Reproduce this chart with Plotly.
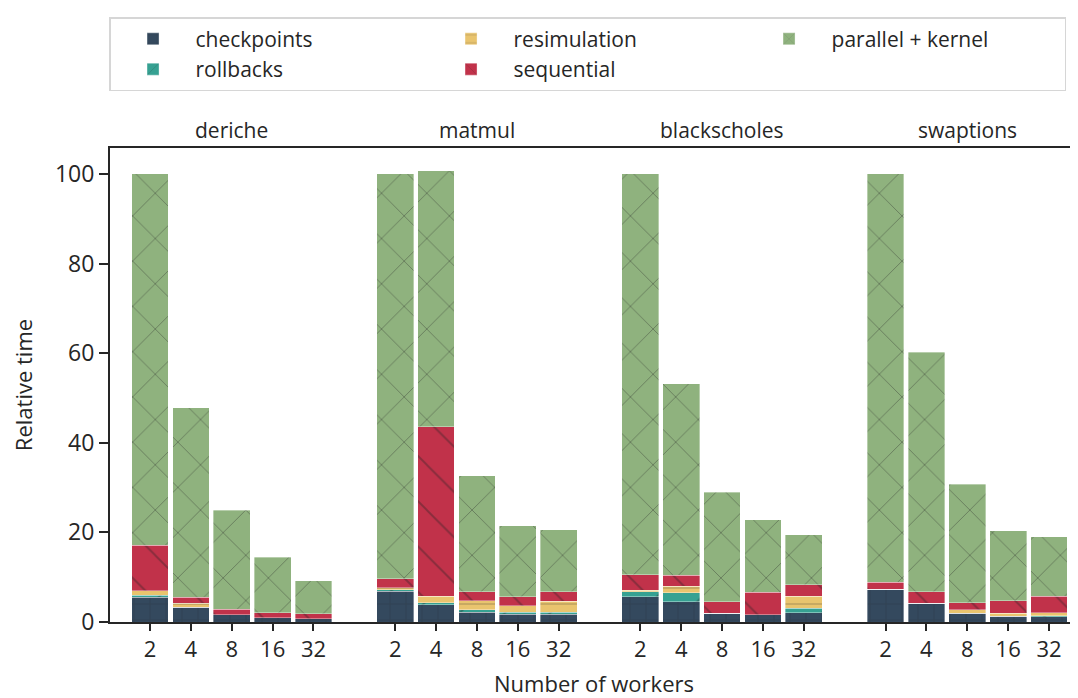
import plotly.graph_objects as go

benchmarks = ["deriche", "matmul", "blackscholes", "swaptions"]
workers = ["2", "4", "8", "16", "32"]

# segment values per benchmark (5 worker counts each)
checkpoints = {
    "deriche":      [5.5, 3.3, 1.6, 1.0, 0.7],
    "matmul":       [6.9, 3.8, 2.2, 1.7, 1.7],
    "blackscholes": [5.6, 4.5, 1.9, 1.6, 2.1],
    "swaptions":    [7.3, 4.2, 2.0, 1.3, 1.2],
}
rollbacks = {
    "deriche":      [0.5, 0.0, 0.0, 0.0, 0.0],
    "matmul":       [0.3, 0.45, 0.5, 0.5, 0.5],
    "blackscholes": [1.1, 2.0, 0.0, 0.0, 1.0],
    "swaptions":    [0.0, 0.0, 0.0, 0.0, 0.2],
}
resimulation = {
    "deriche":      [1.0, 0.9, 0.0, 0.0, 0.0],
    "matmul":       [0.4, 1.55, 2.0, 1.4, 2.4],
    "blackscholes": [0.4, 1.5, 0.0, 0.0, 2.6],
    "swaptions":    [0.0, 0.0, 0.7, 0.6, 0.7],
}
sequential = {
    "deriche":      [10.1, 1.3, 1.3, 1.1, 1.1],
    "matmul":       [2.0, 37.8, 2.0, 2.0, 2.2],
    "blackscholes": [3.5, 2.4, 2.6, 5.0, 2.6],
    "swaptions":    [1.6, 2.5, 1.6, 2.8, 3.6],
}
parallel_kernel = {
    "deriche":      [82.9, 42.3, 22.0, 12.4, 7.4],
    "matmul":       [90.4, 57.1, 26.0, 15.9, 13.8],
    "blackscholes": [89.4, 42.8, 24.5, 16.2, 11.2],
    "swaptions":    [91.1, 53.5, 26.5, 15.7, 13.3],
}

series = [
    ("checkpoints", checkpoints, "#34495e", "+", 16, 1),
    ("rollbacks", rollbacks, "#36a192", "/", 32, 4),
    ("resimulation", resimulation, "#e9c46e", "-", 16, 2),
    ("sequential", sequential, "#c1324a", "\\", 32, 5),
    ("parallel + kernel", parallel_kernel, "#8fb27e", "x", 32, 3),
]

GAP = 1
xs, xt = [], []
for g, b in enumerate(benchmarks):
    for i, w in enumerate(workers):
        xs.append(g * (len(workers) + GAP) + i)
        xt.append(w)

fig = go.Figure()
for name, data, color, shape, size, rank in series:
    vals = [v for b in benchmarks for v in data[b]]
    fig.add_trace(go.Bar(
        x=xs, y=vals, name=name, width=0.9, legendrank=rank,
        marker=dict(color=color,
                    line=dict(color="rgba(255,255,255,0.6)", width=0.6),
                    pattern=dict(shape=shape, size=size, solidity=0.06,
                                 fgcolor="#222222", fgopacity=0.36)),
    ))

FONT = "Open Sans"
INK = "#262626"

for g, b in enumerate(benchmarks):
    fig.add_annotation(
        x=g * (len(workers) + GAP) + (len(workers) - 1) / 2, xref="x",
        y=1.0, yref="paper", yanchor="bottom", yshift=2,
        text=b, showarrow=False, font=dict(family=FONT, size=21, color=INK))

fig.update_layout(
    barmode="stack",
    width=1070, height=690,
    margin=dict(l=102, r=0, t=140, b=76),
    paper_bgcolor="white", plot_bgcolor="white",
    font=dict(family=FONT, color=INK, size=21),
    legend=dict(orientation="h", x=-0.001, xanchor="left", y=1.276, yanchor="top",
                entrywidth=228, entrywidthmode="pixels",
                bordercolor="#d6d6d6", borderwidth=1.5,
                font=dict(family=FONT, size=21, color=INK),
                traceorder="normal", itemwidth=75),
    xaxis=dict(range=[-0.98, 22.71], tickmode="array", tickvals=xs, ticktext=xt,
               showgrid=False, zeroline=False, showline=True, linecolor=INK,
               linewidth=2, mirror=True, ticks="outside", ticklen=7,
               tickwidth=1.8, tickcolor=INK,
               tickfont=dict(family=FONT, size=22, color=INK),
               title=dict(text="Number of workers", standoff=16,
                          font=dict(family=FONT, size=22, color=INK))),
    yaxis=dict(range=[0, 105.8], tickvals=[0, 20, 40, 60, 80, 100],
               showgrid=False, zeroline=False, showline=True, linecolor=INK,
               linewidth=2, ticks="outside", ticklen=9, tickwidth=1.8,
               tickcolor=INK,
               tickfont=dict(family=FONT, size=23, color=INK),
               title=dict(text="Relative time", standoff=20,
                          font=dict(family=FONT, size=22, color=INK))),
)

fig.write_html("out.html")
